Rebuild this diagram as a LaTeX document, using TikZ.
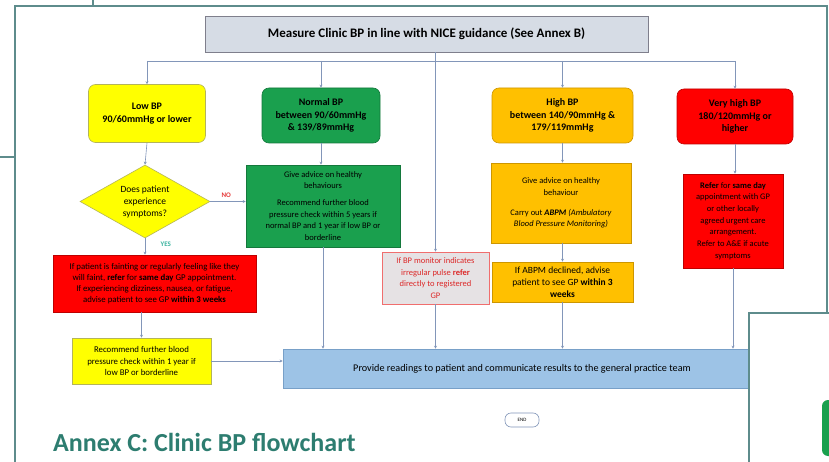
\documentclass[tikz,border=0pt]{standalone}
\usepackage{fontspec}
\setmainfont{Carlito}
\usetikzlibrary{shapes.geometric,arrows.meta}
\definecolor{framec}{RGB}{94,140,140}
\definecolor{connc}{RGB}{130,150,185}
\definecolor{topfill}{RGB}{214,220,229}
\definecolor{topdraw}{RGB}{127,127,140}
\definecolor{yelfill}{RGB}{255,255,0}
\definecolor{yeldraw}{RGB}{180,180,90}
\definecolor{grnfill}{RGB}{26,160,78}
\definecolor{grndraw}{RGB}{20,120,60}
\definecolor{orgfill}{RGB}{255,192,0}
\definecolor{orgdraw}{RGB}{205,150,0}
\definecolor{redfill}{RGB}{255,0,0}
\definecolor{reddraw}{RGB}{190,0,0}
\definecolor{bluefill}{RGB}{157,195,230}
\definecolor{bluedraw}{RGB}{120,160,200}
\definecolor{pinkfill}{RGB}{230,226,228}
\definecolor{pinkdraw}{RGB}{240,110,110}
\definecolor{pinktext}{RGB}{220,40,40}
\definecolor{nocol}{RGB}{230,60,60}
\definecolor{yescol}{RGB}{60,180,160}
\definecolor{titlec}{RGB}{45,125,112}
\tikzset{
  base/.style={draw, line width=0.6pt, inner sep=1pt, align=center, text=black},
  rbox/.style={base, rounded corners=7pt},
  sbox/.style={base},
  small/.style={font=\fontsize{8.5}{11.7}\selectfont},
  head/.style={font=\bfseries\fontsize{10}{12.3}\selectfont},
  conn/.style={draw=connc, line width=0.6pt, -{Stealth[length=3pt,width=3pt]}},
  plain/.style={draw=connc, line width=0.6pt},
  framel/.style={draw=framec, line width=1.2pt},
}
\begin{document}
\begin{tikzpicture}[x=1pt,y=-1pt]
\useasboundingbox (0,0) rectangle (829,462);
\fill[white] (0,0) rectangle (829,462);
% page frames
\draw[framel] (15,462) -- (15,6) -- (827,6) -- (827,313);
\draw[framel] (93,0) -- (93,6);
\draw[framel] (0,157) -- (15,157);

% nodes
\node[sbox, fill=topfill, draw=topdraw, minimum width=443, minimum height=36,
      font=\bfseries\fontsize{13}{15}\selectfont] (top) at (426.5,34)
      {Measure Clinic BP in line with NICE guidance (See Annex B)};
\coordinate (br) at (0,61);

\node[rbox, fill=yelfill, draw=yeldraw, minimum width=117, minimum height=58, head] (low) at (147,113.5)
  {Low BP\\90/60mmHg or lower};
\node[rbox, fill=grnfill, draw=grndraw, minimum width=118, minimum height=55, head] (normal) at (321,115.5)
  {Normal BP\\between 90/60mmHg\\\& 139/89mmHg};
\node[rbox, fill=orgfill, draw=orgdraw, minimum width=141, minimum height=55, head] (high) at (562.5,115.5)
  {High BP\\between 140/90mmHg \&\\179/119mmHg};
\node[rbox, fill=redfill, draw=reddraw, minimum width=116, minimum height=55, head] (vhigh) at (735,116.5)
  {Very high BP\\180/120mmHg or\\higher};

\node[diamond, draw=yeldraw, fill=yelfill, line width=0.6pt, minimum width=130, minimum height=73, inner sep=0pt] (dia) at (145,201.5) {};
\node[align=center, font=\fontsize{9.5}{12}\selectfont] (diatext) at (dia.center) {Does patient\\experience\\symptoms?};

\node[sbox, fill=grnfill, draw=grndraw, minimum width=154, minimum height=82, small] (advg) at (323,206)
  {Give advice on healthy\\behaviours\\[5pt]Recommend further blood\\pressure check within 5 years if\\normal BP and 1 year if low BP or\\borderline};
\node[sbox, fill=orgfill, draw=orgdraw, minimum width=140, minimum height=80, small] (advo) at (561,203)
  {Give advice on healthy\\behaviour\\[8pt]Carry out \textbf{\textit{ABPM}} \textit{(Ambulatory}\\\textit{Blood Pressure Monitoring)}};
\node[sbox, fill=redfill, draw=reddraw, minimum width=100, minimum height=94, small] (refer) at (733,221)
  {\textbf{Refer} for \textbf{same day}\\appointment with GP\\or other locally\\agreed urgent care\\arrangement.\\Refer to A\&E if acute\\symptoms};

\node[sbox, fill=redfill, draw=reddraw, minimum width=203, minimum height=57,
      font=\fontsize{8.8}{11}\selectfont] (redlow) at (154.5,283.5)
  {If patient is fainting or regularly feeling like they\\will faint, \textbf{refer} for \textbf{same day} GP appointment.\\If experiencing dizziness, nausea, or fatigue,\\advise patient to see GP \textbf{within 3 weeks}};
\node[sbox, fill=yelfill, draw=yeldraw, minimum width=139, minimum height=46, font=\fontsize{8.8}{11.7}\selectfont] (yelrec) at (141.5,361)
  {Recommend further blood\\pressure check within 1 year if\\low BP or borderline};

\node[sbox, fill=pinkfill, draw=pinkdraw, minimum width=107, minimum height=52, small, text=pinktext] (pink) at (435.5,278)
  {If BP monitor indicates\\irregular pulse \textbf{refer}\\directly to registered\\GP};
\node[sbox, fill=orgfill, draw=orgdraw, minimum width=141, minimum height=40, font=\fontsize{9.5}{12}\selectfont] (abpm) at (562.5,282)
  {If ABPM declined, advise\\patient to see GP \textbf{within 3}\\\textbf{weeks}};

\node[sbox, fill=bluefill, draw=bluedraw, minimum width=478, minimum height=39, font=\fontsize{10.2}{12}\selectfont] (blue) at (522,368.5)
  {Provide readings to patient and communicate results to the general practice team};
\node[base, draw=connc, rounded corners=6pt, minimum width=34, minimum height=14, inner sep=0pt,
      font=\fontsize{5}{6}\selectfont] (endn) at (522,420) {END};

% connectors
\draw[plain] (top.south -| pink.north) -- (top.south -| pink.north |- br);
\draw[plain] (low.north |- br) -- (vhigh.north |- br);
\draw[conn] (low.north |- br) -- (low.north);
\draw[conn] (normal.north |- br) -- (normal.north);
\draw[conn] (high.north |- br) -- (high.north);
\draw[conn] (vhigh.north |- br) -- (vhigh.north);
\draw[conn] (top.south -| pink.north) -- (pink.north);

\draw[conn] (low.south) -- (dia.north);
\draw[conn] (dia.east) -- node[above, pos=0.45, text=nocol, font=\bfseries\fontsize{7}{8}\selectfont] (nolab) {NO} (dia.east -| advg.west);
\draw[conn] (dia.south) -- node[right, pos=0.35, xshift=12pt, text=yescol, font=\bfseries\fontsize{7}{8}\selectfont] (yeslab) {YES} (redlow.north -| dia.south);
\draw[conn] (redlow.south -| yelrec.north) -- (yelrec.north);
\draw[conn] (yelrec.east) -- (yelrec.east -| blue.west);

\draw[conn] (normal.south) -- (advg.north -| normal.south);
\draw[conn] (advg.south) -- (advg.south |- blue.north);
\draw[conn] (pink.south) -- (pink.south |- blue.north);
\draw[conn] (high.south) -- (advo.north -| high.south);
\draw[conn] (advo.south -| abpm.north) -- (abpm.north);
\draw[conn] (abpm.south) -- (abpm.south |- blue.north);
\draw[conn] (vhigh.south) -- (refer.north -| vhigh.south);
\draw[conn] (refer.south) -- (refer.south |- blue.north);

% title
\node[anchor=base west, inner sep=0pt, text=titlec, font=\bfseries\fontsize{26}{28}\selectfont] (title) at (53,451)
  {Annex C: Clinic BP flowchart};

% overlapping page at bottom right
\fill[white] (749,313) rectangle (835,470);
\draw[framel] (749,462) -- (749,313) -- (829,313);
\fill[grnfill, rounded corners=6pt] (822,400) rectangle (845,456);
\end{tikzpicture}
\end{document}
